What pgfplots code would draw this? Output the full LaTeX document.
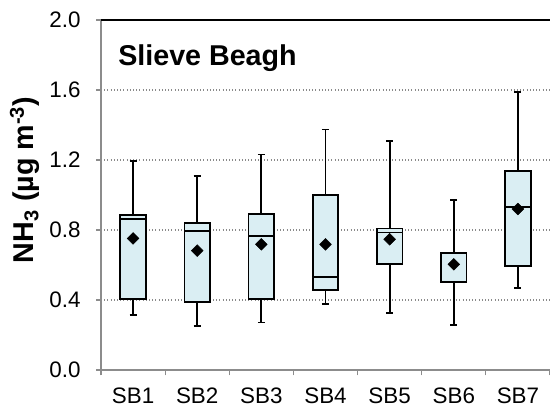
\documentclass[border=0pt]{standalone}
\usepackage{fontspec}
\setmainfont{Liberation Sans}
\usepackage{pgfplots}
\pgfplotsset{compat=1.18}
\usepgfplotslibrary{statistics}
\definecolor{boxfill}{HTML}{DAEEF3}
\definecolor{axgray}{HTML}{8C8C8C}
\definecolor{gridgray}{HTML}{8A8A8A}
\begin{document}
\begin{tikzpicture}
\begin{axis}[
  name=ax,
  scale only axis,
  width=336.75pt, height=262.5pt,
  xmin=0.5, xmax=7.5,
  ymin=0, ymax=2.0,
  clip=false,
  boxplot/draw direction=y,
  axis x line*=bottom,
  axis y line*=left,
  axis line style={axgray, line width=0.8pt},
  ytick={0,0.4,0.8,1.2,1.6,2.0},
  ymajorgrids,
  major grid style={gridgray, dotted, line width=0.8pt},
  ytick style={axgray, line width=0.8pt},
  tick align=outside,
  major tick length=3.75pt,
  /pgf/number format/assume math mode=true,
  yticklabel style={/pgf/number format/fixed, /pgf/number format/fixed zerofill, /pgf/number format/precision=1, font=\fontsize{16.8pt}{19pt}\selectfont, xshift=-8pt},
  xtick={1,2,3,4,5,6,7},
  xticklabels={SB1,SB2,SB3,SB4,SB5,SB6,SB7},
  xtick style={draw=none},
  xticklabel style={font=\fontsize{16.8pt}{19pt}\selectfont, yshift=-6pt},
  extra x ticks={0.5,1.5,2.5,3.5,4.5,5.5,6.5,7.5},
  extra x tick labels={},
  extra x tick style={xtick style={draw=axgray, line width=0.8pt}, major tick length=4pt, grid=none},
]
\addplot[draw=black, fill=boxfill, line width=1.3pt, boxplot prepared={lower whisker=0.316, lower quartile=0.406, median=0.861, upper quartile=0.886, upper whisker=1.194, draw position=1, box extend=0.4, whisker extend=0.11}] coordinates {};
\addplot[draw=black, fill=boxfill, line width=1.3pt, boxplot prepared={lower whisker=0.250, lower quartile=0.390, median=0.796, upper quartile=0.840, upper whisker=1.110, draw position=2, box extend=0.4, whisker extend=0.11}] coordinates {};
\addplot[draw=black, fill=boxfill, line width=1.3pt, boxplot prepared={lower whisker=0.272, lower quartile=0.406, median=0.766, upper quartile=0.891, upper whisker=1.232, draw position=3, box extend=0.4, whisker extend=0.11}] coordinates {};
\addplot[draw=black, fill=boxfill, line width=1.3pt, boxplot prepared={lower whisker=0.379, lower quartile=0.459, median=0.530, upper quartile=1.000, upper whisker=1.375, draw position=4, box extend=0.4, whisker extend=0.11}] coordinates {};
\addplot[draw=black, fill=boxfill, line width=1.3pt, boxplot prepared={lower whisker=0.326, lower quartile=0.604, median=0.785, upper quartile=0.808, upper whisker=1.309, draw position=5, box extend=0.4, whisker extend=0.11}] coordinates {};
\addplot[draw=black, fill=boxfill, line width=1.3pt, boxplot prepared={lower whisker=0.259, lower quartile=0.505, median=0.667, upper quartile=0.667, upper whisker=0.971, draw position=6, box extend=0.4, whisker extend=0.11}] coordinates {};
\addplot[draw=black, fill=boxfill, line width=1.3pt, boxplot prepared={lower whisker=0.469, lower quartile=0.596, median=0.933, upper quartile=1.137, upper whisker=1.590, draw position=7, box extend=0.4, whisker extend=0.11}] coordinates {};
\addplot[only marks, mark=square*, mark size=3.1pt, mark options={rotate=45, fill=black, draw=black}] coordinates {(1,0.752) (2,0.682) (3,0.718) (4,0.718) (5,0.747) (6,0.604) (7,0.920)};
\draw[black, line width=1.1pt] (axis cs:0.5,2.0) -- (axis cs:7.5,2.0);
\end{axis}
\node[anchor=base west, inner sep=0pt, font=\fontsize{21.5pt}{25pt}\selectfont\bfseries] at ([xshift=12.75pt, yshift=-34.3pt]ax.north west) {Slieve Beagh};
\node[rotate=90, anchor=center, inner sep=0pt, font=\fontsize{21.5pt}{25pt}\selectfont\bfseries] at ([xshift=-57pt, yshift=-120pt]ax.north west) {NH\textsubscript{3} (µg m\textsuperscript{-3})};
\pgfresetboundingbox
\path ([xshift=-75.75pt, yshift=-31.5pt]ax.south west) rectangle ([yshift=15pt]ax.north east);
\end{tikzpicture}
\end{document}
